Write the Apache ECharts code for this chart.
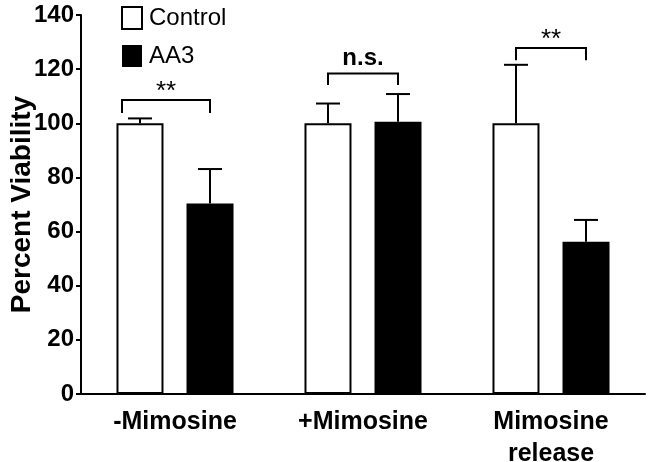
<!DOCTYPE html>
<html>
<head>
<meta charset="utf-8">
<script src="https://cdn.jsdelivr.net/npm/echarts@6/dist/echarts.min.js"></script>
<style>
html,body{margin:0;padding:0;background:#fff;}
#chart{width:649px;height:462px;}
</style>
</head>
<body>
<div id="chart"></div>
<script>
// ---- data ----
const categories = ['-Mimosine', '+Mimosine', 'Mimosine\nrelease'];
const controlMean = [100, 100, 100];
const controlErrTop = [101.8, 107.3, 121.6];
const aa3Mean = [70.4, 100.6, 56.2];
const aa3ErrTop = [83.1, 110.8, 64.3];
const yTicks = [0, 20, 40, 60, 80, 100, 120, 140];
const bracketTop = [108.6, 118.4, 127.8];
const bracketEnd = [103.8, 114.1, 123.3];
const bracketLabels = ['**', 'n.s.', '**'];

// ---- layout constants ----
const FONT = 'Liberation Sans, Arial, Helvetica, sans-serif';
const BAR_W = 47;
const HALF_SPACING = 35; // px from category centre to bar centre
const bracketLeftShift = [-18, 0, 0];

const chart = echarts.init(document.getElementById('chart'), null, {renderer: 'canvas'});

function errorRender(sign) {
  return function (params, api) {
    const ci = api.value(0);
    const p0 = api.coord([ci, api.value(1)]);
    const p1 = api.coord([ci, api.value(2)]);
    const x = p0[0] + sign * HALF_SPACING;
    const cap = 12;
    return {
      type: 'group',
      children: [
        {type: 'line', shape: {x1: x, y1: p0[1], x2: x, y2: p1[1]}, style: {stroke: '#000', lineWidth: 2}},
        {type: 'line', shape: {x1: x - cap, y1: p1[1], x2: x + cap, y2: p1[1]}, style: {stroke: '#000', lineWidth: 2}}
      ]
    };
  };
}

function bracketRender(params, api) {
  const ci = api.value(0);
  const pt = api.coord([ci, api.value(1)]);
  const pe = api.coord([ci, api.value(2)]);
  const idx = params.dataIndex;
  const xl = pt[0] - HALF_SPACING + bracketLeftShift[idx];
  const xr = pt[0] + HALF_SPACING;
  const isBold = bracketLabels[idx] !== '**';
  return {
    type: 'group',
    children: [
      {type: 'polyline', shape: {points: [[xl, pe[1]], [xl, pt[1]], [xr, pt[1]], [xr, pe[1]]]},
       style: {stroke: '#000', lineWidth: 2, fill: null}},
      {type: 'text', x: (xl + xr) / 2, y: pt[1] - (isBold ? 15 : 8),
       style: {text: bracketLabels[idx], textAlign: 'center', textVerticalAlign: 'middle',
               font: (isBold ? 'bold 24px ' : '26px ') + FONT, fill: '#000'}}
    ]
  };
}

const option = {
  backgroundColor: '#fff',
  animation: false,
  textStyle: {fontFamily: FONT},
  grid: {left: 81, right: 4, top: 15, bottom: 68, containLabel: false, outerBoundsMode: 'none'},
  legend: {
    orient: 'vertical', left: 116, top: 1, itemWidth: 20, itemHeight: 22, itemGap: 14,
    icon: 'rect',
    textStyle: {fontSize: 24, color: '#000', fontFamily: FONT, padding: [0, 0, 0, 2]},
    data: [
      {name: 'Control', itemStyle: {color: '#fff', borderColor: '#000', borderWidth: 2}},
      {name: 'AA3', itemStyle: {color: '#000', borderColor: '#000', borderWidth: 0}}
    ]
  },
  xAxis: {
    type: 'category', data: categories,
    axisLine: {lineStyle: {color: '#000', width: 2}},
    axisTick: {alignWithLabel: true, length: 5, lineStyle: {color: '#000', width: 2}},
    axisLabel: {color: '#000', fontSize: 25, fontWeight: 'bold', margin: 12, lineHeight: 32, fontFamily: FONT}
  },
  yAxis: {
    type: 'value', min: yTicks[0], max: yTicks[yTicks.length - 1], interval: yTicks[1] - yTicks[0],
    name: 'Percent Viability', nameLocation: 'middle', nameGap: 45, nameRotate: 90, nameMoveOverlap: false,
    nameTextStyle: {color: '#000', fontSize: 28, fontWeight: 'bold', fontFamily: FONT},
    axisLine: {show: true, lineStyle: {color: '#000', width: 2}},
    axisTick: {show: true, length: 5, lineStyle: {color: '#000', width: 2}},
    axisLabel: {color: '#000', fontSize: 24, fontWeight: 'bold', margin: 7, fontFamily: FONT},
    splitLine: {show: false}
  },
  series: [
    {name: 'Control', type: 'bar', data: controlMean, barWidth: BAR_W, barGap: '49%',
     itemStyle: {color: '#fff', borderColor: '#000', borderWidth: 2}},
    {name: 'AA3', type: 'bar', data: aa3Mean, barWidth: BAR_W,
     itemStyle: {color: '#000', borderColor: '#000', borderWidth: 0}},
    {type: 'custom', name: 'ctrlErr', renderItem: errorRender(-1), z: 5,
     data: controlMean.map((v, i) => [i, v, controlErrTop[i]])},
    {type: 'custom', name: 'aa3Err', renderItem: errorRender(1), z: 5,
     data: aa3Mean.map((v, i) => [i, v, aa3ErrTop[i]])},
    {type: 'custom', name: 'brackets', renderItem: bracketRender, z: 5,
     data: bracketTop.map((v, i) => [i, v, bracketEnd[i]])}
  ]
};
chart.setOption(option);
</script>
</body>
</html>
